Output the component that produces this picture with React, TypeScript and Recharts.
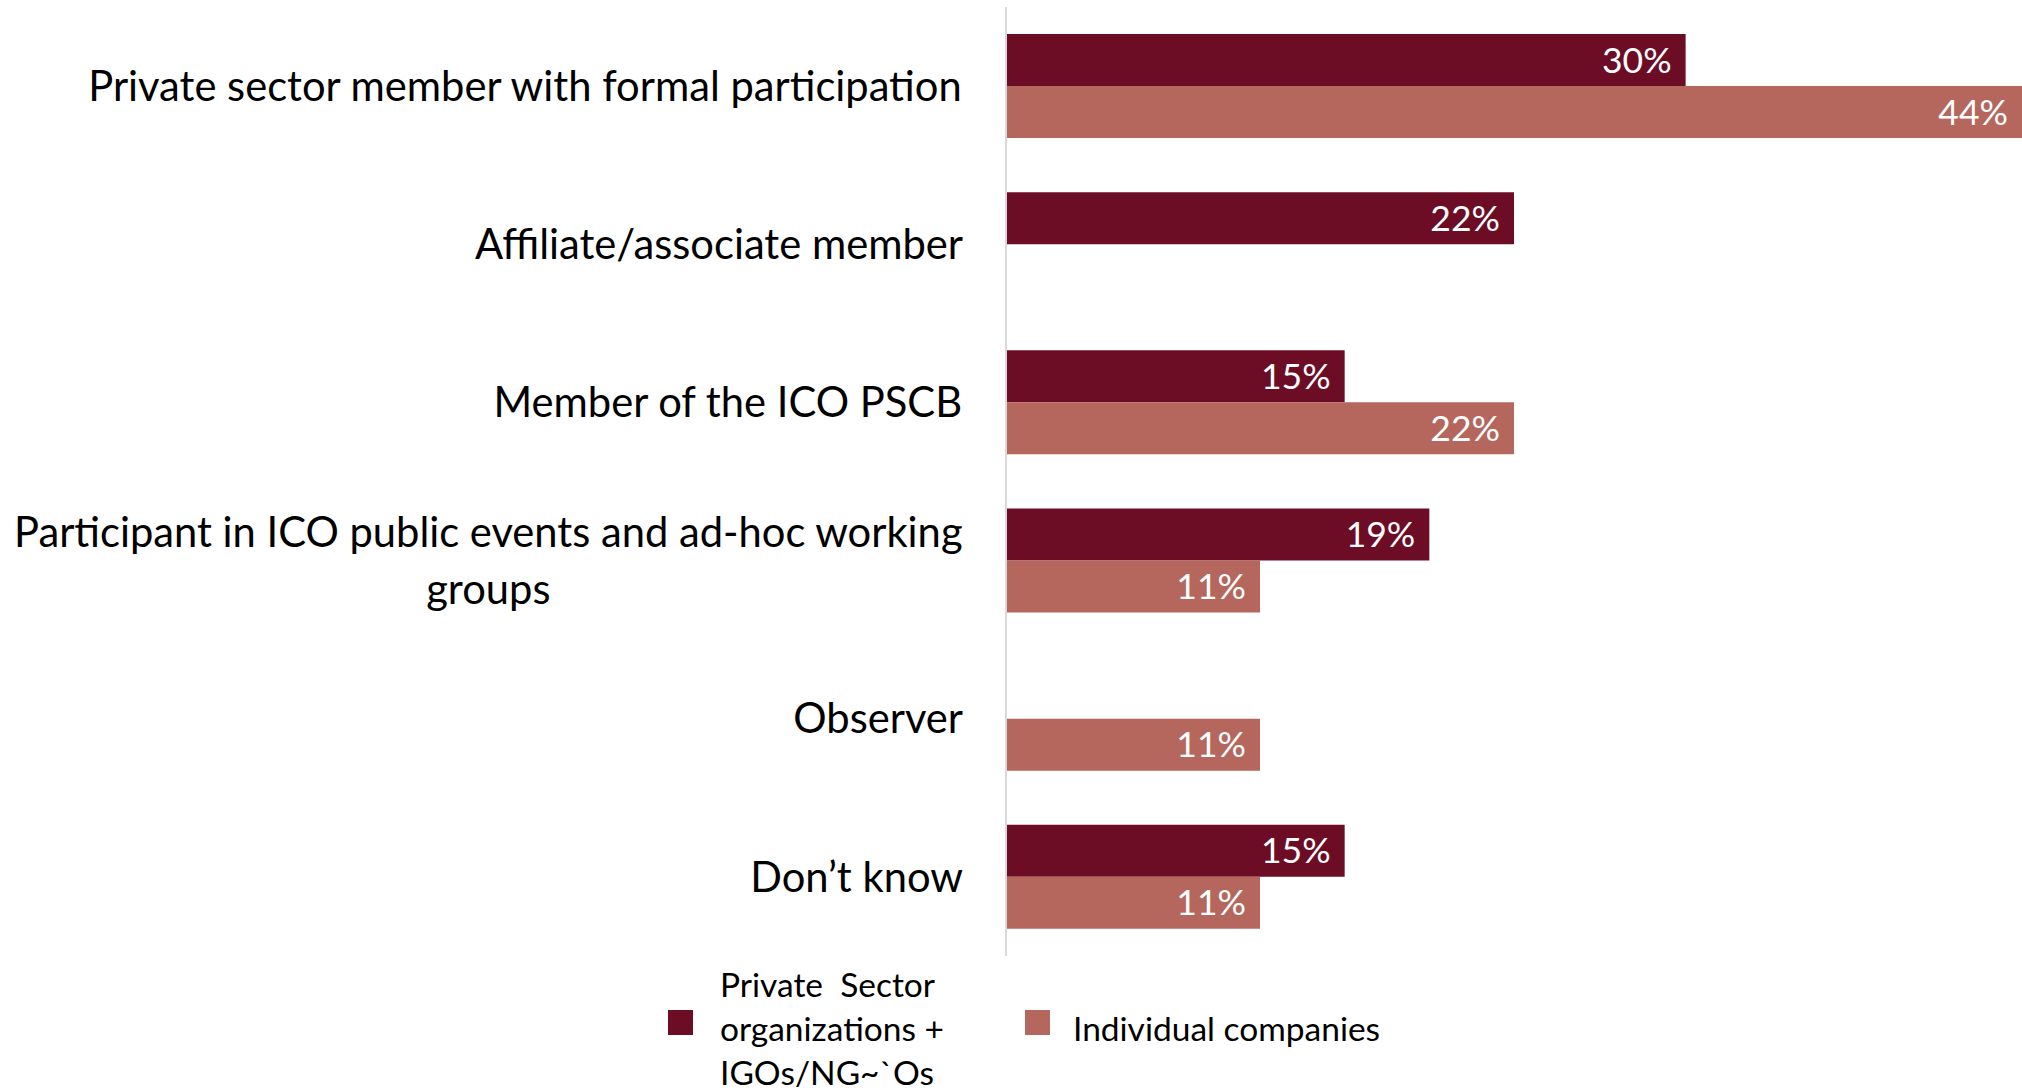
import React from 'react';
import { BarChart, Bar, XAxis, YAxis, LabelList, Legend } from 'recharts';

const categories = [
  'Private sector member with formal participation',
  'Affiliate/associate member',
  'Member of the ICO PSCB',
  'Participant in ICO public events and ad-hoc working groups',
  'Observer',
  'Don’t know',
];
const orgValues: (number | null)[] = [29.7, 22.2, 14.8, 18.5, null, 14.8];
const companyValues: (number | null)[] = [44.4, null, 22.2, 11.1, 11.1, 11.1];
const seriesKeys = ['org', 'company'];
const seriesNames = ['Private  Sector organizations + IGOs/NG~`Os', 'Individual companies'];
const seriesColors = ['#6D0C25', '#B5675E'];

const data = categories.map((name, i) => ({ name, org: orgValues[i], company: companyValues[i] }));

const FONT = 'Lato, "Open Sans", sans-serif';
const TICK_SIZE = 41.7;
const LABEL_SIZE = 35.5;

let ctx: CanvasRenderingContext2D | null = null;
function measure(text: string, font: string) {
  if (!ctx) ctx = document.createElement('canvas').getContext('2d');
  ctx!.font = font;
  return ctx!.measureText(text).width;
}
function wrap(text: string, maxW: number, font: string) {
  const words = text.split(' ');
  const lines: string[] = [];
  let cur = '';
  for (const w of words) {
    const t = cur ? cur + ' ' + w : w;
    if (cur && measure(t, font) > maxW) {
      lines.push(cur);
      cur = w;
    } else cur = t;
  }
  if (cur) lines.push(cur);
  return lines;
}

const CategoryTick = (props: any) => {
  const { x, y, payload } = props;
  const font = `${TICK_SIZE}px Lato`;
  const lines = wrap(String(payload.value), 985, font);
  const widths = lines.map((l) => measure(l, font));
  const blockW = Math.max(...widths);
  const cx = x - blockW / 2;
  const lh = 56.7;
  return (
    <text x={cx} y={y} textAnchor="middle" fill="#000" fontFamily={FONT} fontSize={TICK_SIZE}>
      {lines.map((l, i) => (
        <tspan key={i} x={cx} y={y + (i - (lines.length - 1) / 2) * lh} dy="0.35em">
          {l}
        </tspan>
      ))}
    </text>
  );
};

const LegendContent = (props: any) => {
  const payload = [...(props.payload || [])].sort(
    (a: any, b: any) => seriesKeys.indexOf(a.dataKey) - seriesKeys.indexOf(b.dataKey)
  );
  const pos = [
    { sq: 668, tx: 720, w: 255 },
    { sq: 1025, tx: 1073, w: 420 },
  ];
  return (
    <div style={{ position: 'relative', width: 2022, height: 0 }}>
      {payload.map((p: any, i: number) => (
        <React.Fragment key={i}>
          <div
            style={{
              position: 'absolute',
              left: pos[i].sq,
              top: 1010,
              width: 25,
              height: 25,
              background: p.color,
            }}
          />
          <div
            style={{
              position: 'absolute',
              left: pos[i].tx,
              top: 1028,
              transform: 'translateY(-50%)',
              width: pos[i].w,
              whiteSpace: 'pre-wrap',
              fontFamily: FONT,
              fontSize: 33.5,
              lineHeight: '44px',
              color: '#000',
              textAlign: 'left',
            }}
          >
            {p.value}
          </div>
        </React.Fragment>
      ))}
    </div>
  );
};

const fmt = (v: any) => (v == null ? '' : `${Math.round(Number(v))}%`);

export default function App() {
  return (
    <div style={{ position: 'absolute', left: 0, top: 0, width: 2022, height: 1091, background: '#fff' }}>
      <BarChart
        width={2022}
        height={1091}
        data={data}
        layout="vertical"
        margin={{ top: 7, right: 0, left: 0, bottom: 135 }}
        barGap={0}
        barCategoryGap={27}
      >
        <XAxis type="number" domain={[0, 44.4]} hide />
        <YAxis
          type="category"
          dataKey="name"
          width={1006}
          axisLine={{ stroke: '#d9d9d9', strokeWidth: 2 }}
          tickLine={false}
          tickSize={0}
          tickMargin={43}
          interval={0}
          tick={<CategoryTick />}
        />
        <Legend
          content={<LegendContent />}
          wrapperStyle={{ position: 'absolute', left: 0, top: 0, width: 2022, height: 0 }}
        />
        <Bar dataKey="org" name={seriesNames[0]} fill={seriesColors[0]} barSize={52} isAnimationActive={false}>
          <LabelList
            dataKey="org"
            position="insideRight"
            offset={14}
            fill="#fff"
            fontFamily={FONT}
            fontSize={LABEL_SIZE}
            formatter={fmt}
          />
        </Bar>
        <Bar dataKey="company" name={seriesNames[1]} fill={seriesColors[1]} barSize={52} isAnimationActive={false}>
          <LabelList
            dataKey="company"
            position="insideRight"
            offset={14}
            fill="#fff"
            fontFamily={FONT}
            fontSize={LABEL_SIZE}
            formatter={fmt}
          />
        </Bar>
      </BarChart>
    </div>
  );
}
